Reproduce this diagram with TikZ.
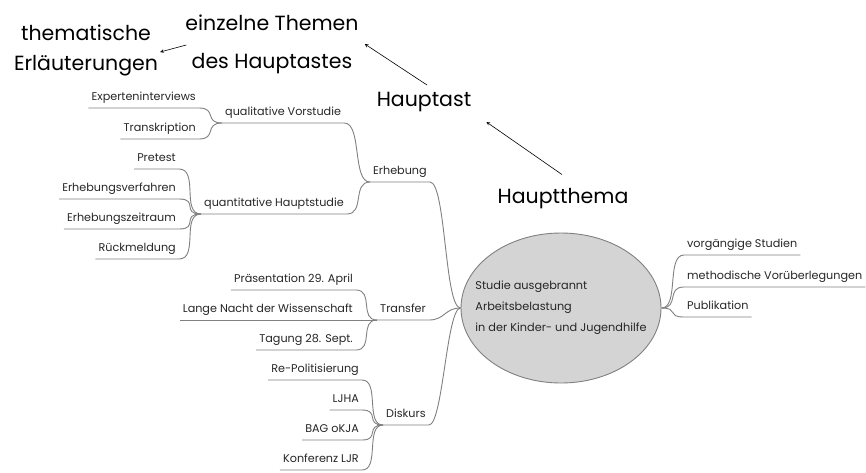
\documentclass[tikz,border=0pt]{standalone}
\usepackage{fontspec}
\setmainfont{Poppins}
\usetikzlibrary{arrows,positioning,shapes.geometric}

\begin{document}
\begin{tikzpicture}
		[x=1pt, y=-1pt, inner sep=0pt,
		topic/.style	= {font=\fontsize{11.2}{13}\selectfont, text=black!85, inner xsep=3pt, inner ysep=3pt, text height=8pt, text depth=4pt},
		lefttopic/.style	= {topic, anchor=south east},
		midtopic/.style	= {topic, anchor=south west},
		branch/.style	= {draw=black!50, line width=0.9pt},
		hub/.style	= {ellipse, draw=black!50, fill=black!17, line width=0.9pt, inner xsep=-16pt, inner ysep=0pt, minimum width=200pt, minimum height=150pt, align=left, text=black!85, font=\fontsize{11.3}{21}\selectfont},
		note/.style	= {font=\fontsize{20.5}{27}\selectfont, align=center},
		hint/.style	= {->, >=stealth, line width=0.6pt}]
		
		\useasboundingbox (0,0) rectangle (866,472);
		
		\node at (561, 308)	[hub]	(hub)	{Studie ausgebrannt\\Arbeitsbelastung\\in der Kinder- und Jugendhilfe};
		
		\node at (370, 182)	[midtopic]	(erh)	{Erhebung};
		\node at (222, 123)	[midtopic]	(qual)	{qualitative Vorstudie};
		\node at (201, 214)	[midtopic]	(quant)	{quantitative Hauptstudie};
		\node at (377, 320)	[midtopic]	(trans)	{Transfer};
		\node at (383, 425)	[midtopic]	(disk)	{Diskurs};
		
		\node at (199, 108)	[lefttopic]	(expi)	{Experteninterviews};
		\node at (199, 139)	[lefttopic]	(tran)	{Transkription};
		
		\node at (179, 169)	[lefttopic]	(pre)	{Pretest};
		\node at (179, 199)	[lefttopic]	(verf)	{Erhebungsverfahren};
		\node at (179, 229)	[lefttopic]	(zeit)	{Erhebungszeitraum};
		\node at (179, 259)	[lefttopic]	(rueck)	{Rückmeldung};
		
		\node at (356, 290)	[lefttopic]	(praes)	{Präsentation 29. April};
		\node at (356, 320)	[lefttopic]	(nacht)	{Lange Nacht der Wissenschaft};
		\node at (356, 350)	[lefttopic]	(tag)	{Tagung 28. Sept.};
		
		\node at (362, 380)	[lefttopic]	(repol)	{Re-Politisierung};
		\node at (362, 410)	[lefttopic]	(ljha)	{LJHA};
		\node at (362, 440)	[lefttopic]	(bag)	{BAG oKJA};
		\node at (362, 470)	[lefttopic]	(konf)	{Konferenz LJR};
		
		\node at (684, 255)	[midtopic]	(vorg)	{vorgängige Studien};
		\node at (684, 287)	[midtopic]	(meth)	{methodische Vorüberlegungen};
		\node at (684, 317)	[midtopic]	(publ)	{Publikation};
		
		\node at (86, 50)	[note, font=\fontsize{20.5}{30}\selectfont]	(erl)	{thematische\\Erläuterungen};
		\node at (272, 44)	[note, font=\fontsize{20.5}{38}\selectfont]	(themen)	{einzelne Themen\\des Hauptastes};
		\node at (424, 102)	[note]	(ast)	{Hauptast};
		\node at (563, 199)	[note]	(thema)	{Hauptthema};
		
		\draw [branch] (erh.south west) -- (erh.south east) .. controls +(16,0) and +(-16,0) .. (hub.west);
		\draw [branch] (trans.south west) -- (trans.south east) .. controls +(16,0) and +(-16,0) .. (hub.west);
		\draw [branch] (disk.south west) -- (disk.south east) .. controls +(14,0) and +(-14,0) .. (hub.west);
		
		\draw [branch] (qual.south west) -- (qual.south east) .. controls +(18,0) and +(-18,0) .. (erh.south west);
		\draw [branch] (quant.south west) -- (quant.south east) .. controls +(18,0) and +(-18,0) .. (erh.south west);
		
		\draw [branch] (expi.south west) -- (expi.south east) .. controls +(18,0) and +(-18,0) .. (qual.south west);
		\draw [branch] (tran.south west) -- (tran.south east) .. controls +(18,0) and +(-18,0) .. (qual.south west);
		
		\draw [branch] (pre.south west) -- (pre.south east) .. controls +(20,0) and +(-20,0) .. (quant.south west);
		\draw [branch] (verf.south west) -- (verf.south east) .. controls +(20,0) and +(-20,0) .. (quant.south west);
		\draw [branch] (zeit.south west) -- (zeit.south east) .. controls +(20,0) and +(-20,0) .. (quant.south west);
		\draw [branch] (rueck.south west) -- (rueck.south east) .. controls +(20,0) and +(-20,0) .. (quant.south west);
		
		\draw [branch] (praes.south west) -- (praes.south east) .. controls +(18,0) and +(-18,0) .. (trans.south west);
		\draw [branch] (nacht.south west) -- (trans.south west);
		\draw [branch] (tag.south west) -- (tag.south east) .. controls +(18,0) and +(-18,0) .. (trans.south west);
		
		\draw [branch] (repol.south west) -- (repol.south east) .. controls +(18,0) and +(-18,0) .. (disk.south west);
		\draw [branch] (ljha.south west) -- (ljha.south east) .. controls +(18,0) and +(-18,0) .. (disk.south west);
		\draw [branch] (bag.south west) -- (bag.south east) .. controls +(18,0) and +(-18,0) .. (disk.south west);
		\draw [branch] (konf.south west) -- (konf.south east) .. controls +(18,0) and +(-18,0) .. (disk.south west);
		
		\draw [branch] (hub.east) .. controls +(18,0) and +(-18,0) .. (vorg.south west) -- (vorg.south east);
		\draw [branch] (hub.east) .. controls +(18,0) and +(-18,0) .. (meth.south west) -- (meth.south east);
		\draw [branch] (hub.east) .. controls +(18,0) and +(-18,0) .. (publ.south west) -- (publ.south east);
		
		\draw [hint] ([shift={(1,1)}]themen.west) -- ([shift={(2,2)}]erl.east);
		\draw [hint] ([shift={(3,-7)}]ast.north) -- ([shift={(6,0)}]themen.east);
		\draw [hint] ([shift={(-1,-14)}]thema.north) -- ([shift={(15,10)}]ast.south east);
		
\end{tikzpicture}
\end{document}
